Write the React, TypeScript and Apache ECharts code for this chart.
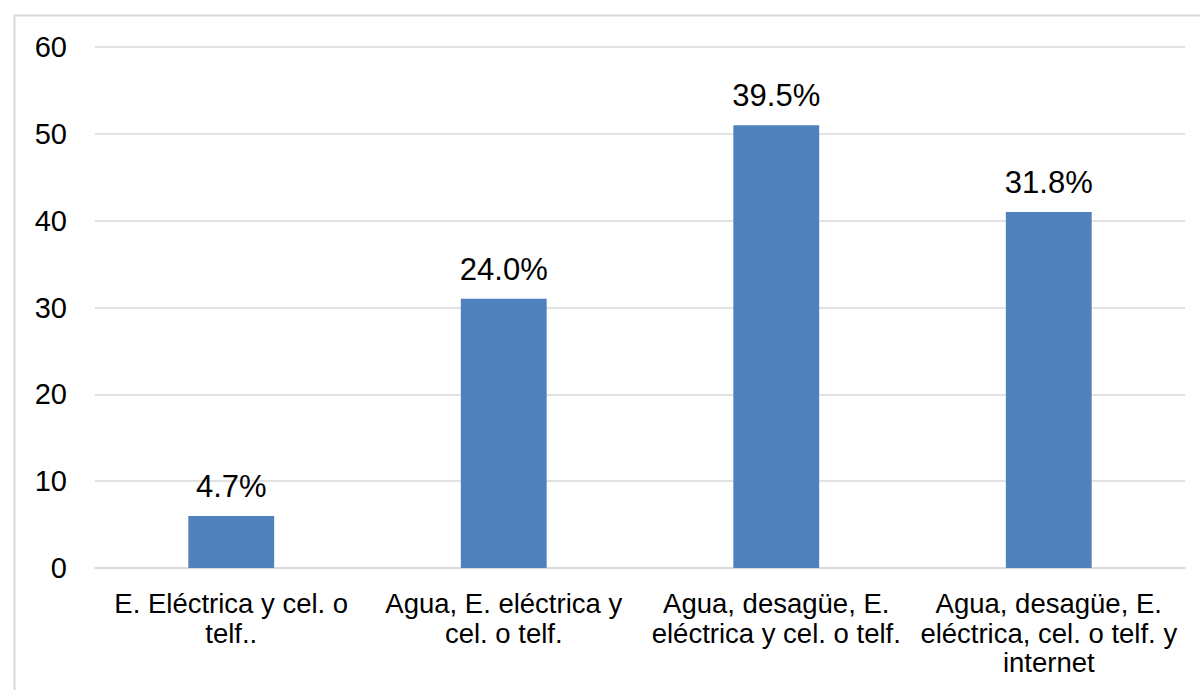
import React, { useEffect, useRef } from "react";
import * as echarts from "echarts";

const categories = [
  "E. Eléctrica y cel. o\ntelf..",
  "Agua, E. eléctrica y\ncel. o telf.",
  "Agua, desagüe, E.\neléctrica y cel. o telf.",
  "Agua, desagüe, E.\neléctrica, cel. o telf. y\ninternet",
];
const values = [6, 31, 51, 41];
const percentLabels = ["4.7%", "24.0%", "39.5%", "31.8%"];
const yTicks = { min: 0, max: 60, interval: 10 };

const FONT = "'Liberation Sans', Arial, sans-serif";

export default function App() {
  const ref = useRef<HTMLDivElement>(null);
  useEffect(() => {
    if (!ref.current) return;
    const chart = echarts.init(ref.current, undefined, { renderer: "svg" });
    chart.setOption({
      animation: false,
      backgroundColor: "#ffffff",
      textStyle: { fontFamily: FONT },
      graphic: [
        {
          type: "rect",
          shape: { x: 14.5, y: 15.5, width: 1400, height: 900 },
          style: { fill: "none", stroke: "#D9D9D9", lineWidth: 2 },
          silent: true,
        },
      ],
      grid: { left: 95, right: 15, top: 47, bottom: 122, containLabel: false },
      xAxis: {
        type: "category",
        data: categories,
        axisLine: { show: true, lineStyle: { color: "#D9D9D9", width: 1.5 } },
        axisTick: { show: false },
        axisLabel: {
          interval: 0,
          color: "#000000",
          fontFamily: FONT,
          fontSize: 27.5,
          lineHeight: 29.5,
          margin: 21,
          align: "center",
        },
      },
      yAxis: {
        type: "value",
        min: yTicks.min,
        max: yTicks.max,
        interval: yTicks.interval,
        axisLine: { show: false },
        axisTick: { show: false },
        splitLine: { lineStyle: { color: "#D9D9D9", width: 1.5 } },
        axisLabel: {
          color: "#000000",
          fontFamily: FONT,
          fontSize: 29,
          margin: 28,
        },
      },
      series: [
        {
          type: "bar",
          data: values,
          barWidth: "31.5%",
          itemStyle: { color: "#4F81BD" },
          label: {
            show: true,
            position: "top",
            distance: 14,
            color: "#000000",
            fontFamily: FONT,
            fontSize: 31,
            formatter: (p: any) => percentLabels[p.dataIndex],
          },
        },
      ],
    });
    return () => chart.dispose();
  }, []);
  return (
    <div
      ref={ref}
      style={{ position: "fixed", left: 0, top: 0, width: 1200, height: 690 }}
    />
  );
}
